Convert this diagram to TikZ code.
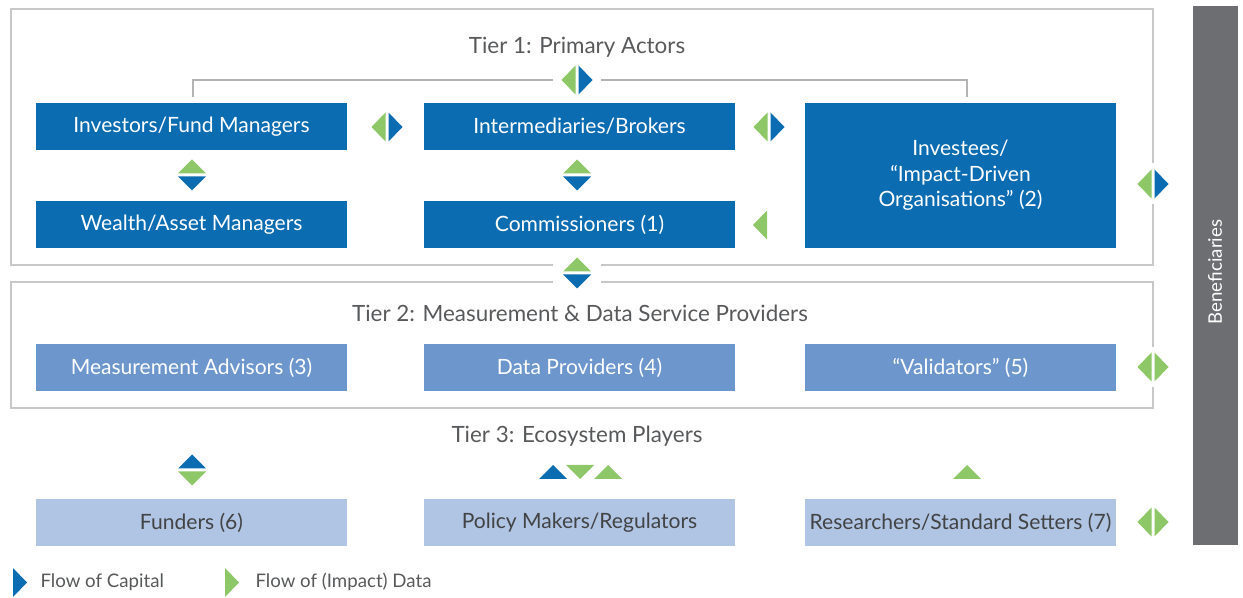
\documentclass[tikz,border=0pt]{standalone}
\usepackage{fontspec}
\setmainfont{Lato}
\usetikzlibrary{calc}

\definecolor{capblue}{RGB}{12,108,178}
\definecolor{datagreen}{RGB}{141,199,103}
\definecolor{tieronefill}{RGB}{12,108,178}
\definecolor{tiertwofill}{RGB}{108,150,204}
\definecolor{tierthreefill}{RGB}{176,196,228}
\definecolor{framegray}{RGB}{200,200,200}
\definecolor{benefgray}{RGB}{109,110,113}
\definecolor{titlegray}{RGB}{88,89,91}

\newcommand\labfont{\fontsize{15.8}{19}\selectfont}
\newcommand\tierfont{\fontsize{16.8}{20}\selectfont}
\newcommand\legfont{\fontsize{14}{17}\selectfont}

\tikzset{every picture/.style={line width=0.75pt}}
\tikzset{
  actorbox/.style={minimum width=233.25pt, minimum height=35.25pt, inner sep=0pt, align=center, font=\labfont},
  tierone/.style={actorbox, fill=tieronefill, text=white},
  tiertwo/.style={actorbox, fill=tiertwofill, text=white},
  tierthree/.style={actorbox, fill=tierthreefill, text=titlegray!75!black},
  tiertitle/.style={text=titlegray, font=\tierfont},
  tierframe/.style={draw=framegray, line width=1.5pt},
  bracket/.style={draw=framegray!90!black, line width=0.9pt},
  legendtext/.style={text=titlegray, font=\legfont, anchor=west, inner sep=0pt},
  knockout/.style={fill=white},
  tipR/.pic={\fill (1.5,-14.5) -- (15.5,0) -- (1.5,14.5) -- cycle;},
  tipL/.pic={\fill (-1.5,-14.5) -- (-15.5,0) -- (-1.5,14.5) -- cycle;},
  tipU/.pic={\fill (-14,1.5) -- (0,15.5) -- (14,1.5) -- cycle;},
  tipD/.pic={\fill (-14,-1.5) -- (0,-15.5) -- (14,-1.5) -- cycle;},
}

\begin{document}
\begin{tikzpicture}[x=0.75pt,y=0.75pt,yscale=-1,xscale=1]
	\useasboundingbox (0,0) rectangle (1243,598);

	%Shape: Rectangle [tier 1 frame]
	\draw[tierframe] (11,9) rectangle (1153,265);
	%Shape: Rectangle [tier 2 frame]
	\draw[tierframe] (11,282) rectangle (1153,408);
	%Shape: Rectangle [beneficiaries]
	\fill[benefgray] (1193,6) rectangle (1238,545);
	\node[rotate=90, text=white, font=\legfont] (benef) at (1215,272) {Beneficiaries};

	% Text Node
	\node[tiertitle] (tierone) at (577,47) {Tier 1: Primary Actors};
	\node[tiertitle] (tiertwo) at (580,313) {Tier 2: Measurement \& Data Service Providers};
	\node[tiertitle] (tierthree) at (577,436) {Tier 3: Ecosystem Players};

	% Tier 1 boxes
	\node[tierone] (inv) at (191.5,126.5) {Investors/Fund Managers};
	\node[tierone] (wealth) at (191.5,224.5) {Wealth/Asset Managers};
	\node[tierone] (inter) at (579.5,126.5) {Intermediaries/Brokers};
	\node[tierone] (comm) at (579.5,224.5) {Commissioners (1)};
	\node[tierone, minimum height=108.75pt] (investee) at (960.5,175.5) {Investees/\\“Impact-Driven\\Organisations” (2)};

	% Tier 2 boxes
	\node[tiertwo] (measadv) at (191.5,367.5) {Measurement Advisors (3)};
	\node[tiertwo] (dataprov) at (579.5,367.5) {Data Providers (4)};
	\node[tiertwo] (valid) at (960.5,367.5) {“Validators” (5)};

	% Tier 3 boxes
	\node[tierthree] (funders) at (191.5,522.5) {Funders (6)};
	\node[tierthree] (policy) at (579.5,522.5) {Policy Makers/Regulators};
	\node[tierthree] (research) at (960.5,522.5) {Researchers/Standard Setters (7)};

	%Straight Lines [bracket over tier 1]
	\coordinate (topflow) at (577,80);
	\draw[bracket] ($(inv.north)+(1.5,-5)$) |- ($(topflow)+(-24,0)$);
	\draw[bracket] ($(investee.north)+(6.5,-5)$) |- ($(topflow)+(24,0)$);

	% flow markers
	\pic[fill=datagreen] at (topflow) {tipL};
	\pic[fill=capblue] at (topflow) {tipR};
	\pic[fill=datagreen] at (387,127) {tipL};
	\pic[fill=capblue] at (387,127) {tipR};
	\pic[fill=datagreen] at (769,127) {tipL};
	\pic[fill=capblue] at (769,127) {tipR};
	\pic[fill=datagreen] at (192,175) {tipU};
	\pic[fill=capblue] at (192,175) {tipD};
	\pic[fill=datagreen] at (577,175) {tipU};
	\pic[fill=capblue] at (577,175) {tipD};
	\pic[fill=datagreen] at (768.5,225) {tipL};

	\fill[knockout] (1135,163) rectangle (1171,204);
	\pic[fill=datagreen] at (1153,184) {tipL};
	\pic[fill=capblue] at (1153,184) {tipR};

	\fill[knockout] (553,255) rectangle (601,291);
	\pic[fill=datagreen] at (577,273) {tipU};
	\pic[fill=capblue] at (577,273) {tipD};

	\fill[knockout] (1135,347) rectangle (1171,387);
	\pic[fill=datagreen] at (1153,367) {tipL};
	\pic[fill=datagreen] at (1153,367) {tipR};

	\pic[fill=capblue] at (192,470) {tipU};
	\pic[fill=datagreen] at (192,470) {tipD};
	\pic[fill=capblue] at (553,480.5) {tipU};
	\pic[fill=datagreen] at (580,463.5) {tipD};
	\pic[fill=datagreen] at (608,480.5) {tipU};
	\pic[fill=datagreen] at (967,480.5) {tipU};

	\pic[fill=datagreen] at (1153,522) {tipL};
	\pic[fill=datagreen] at (1153,522) {tipR};

	% Legend
	\pic[fill=capblue] at (11.5,582.5) {tipR};
	\node[legendtext] (capleg) at (40,582) {Flow of Capital};
	\pic[fill=datagreen] at (223.5,582.5) {tipR};
	\node[legendtext] (dataleg) at (255,582) {Flow of (Impact) Data};
\end{tikzpicture}
\end{document}
